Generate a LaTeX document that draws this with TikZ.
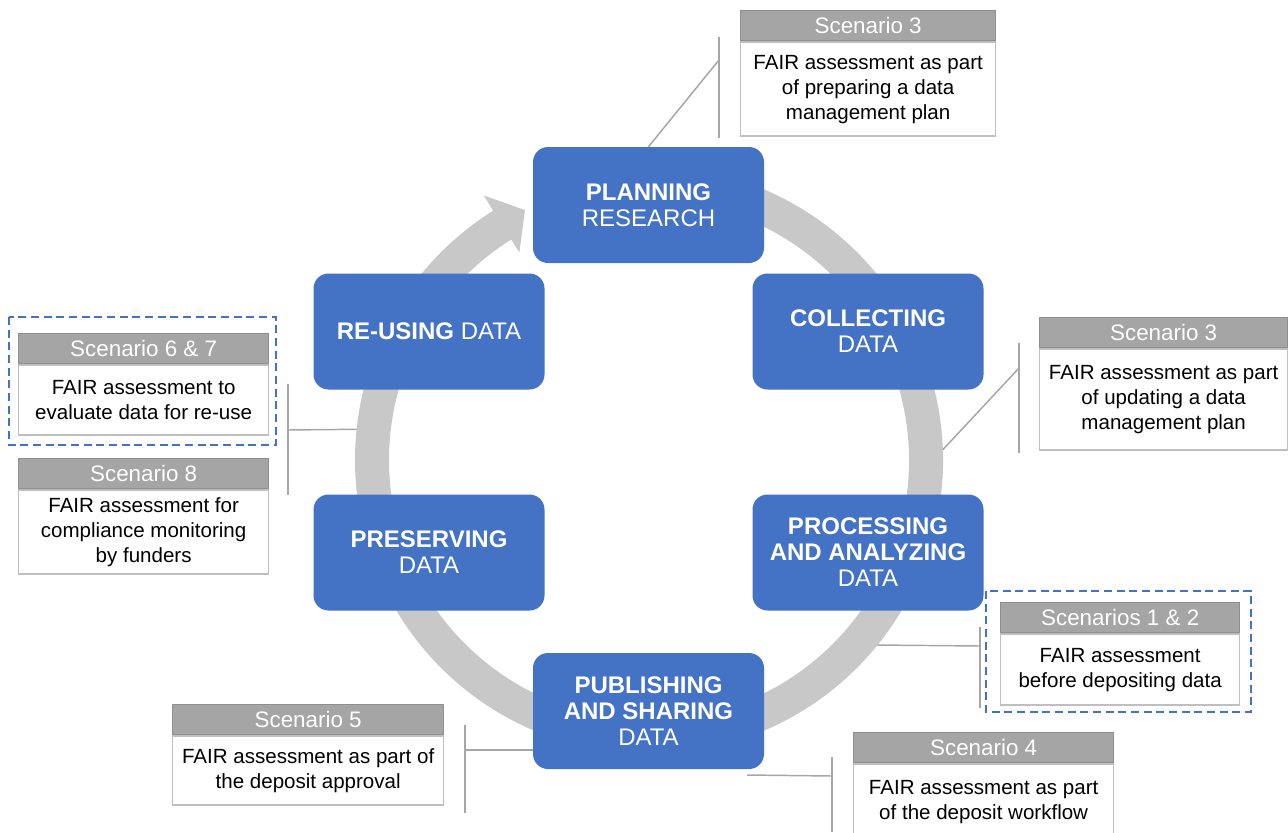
\documentclass[tikz,border=0pt]{standalone}
\usepackage{fontspec}
\setmainfont{Liberation Sans}
\definecolor{stageblue}{HTML}{4472C4}
\definecolor{ringgray}{HTML}{C8C8C8}
\definecolor{headgray}{HTML}{A5A5A5}
\definecolor{headedge}{HTML}{8F8F8F}
\definecolor{bodyedge}{HTML}{BFBFBF}
\definecolor{leadergray}{HTML}{A6A6A6}
\begin{document}
\begin{tikzpicture}[x=0.75pt,y=-0.75pt,
  stage/.style={fill=stageblue, rounded corners=11.25pt, minimum width=173.25pt,
    minimum height=87pt, text=white, align=center, inner sep=0pt,
    font=\fontsize{18}{19.5}\selectfont},
  head/.style={fill=headgray, draw=headedge, line width=1pt, text=white,
    minimum height=22.5pt, inner sep=0pt, anchor=north west,
    font=\fontsize{16.8}{18}\selectfont},
  body/.style={fill=white, draw=bodyedge, line width=1.1pt, text=black,
    align=center, inner sep=0pt, anchor=north,
    font=\fontsize{15.4}{18.75}\selectfont},
  leader/.style={draw=leadergray, line width=1.1pt},
  focus/.style={draw=stageblue, line width=2.2pt, dash pattern=on 6pt off 3.5pt}]
\useasboundingbox (0,0) rectangle (1288,832);
\clip (0,0) rectangle (1288,832);

% life-cycle ring with its arrowhead
\coordinate (c) at (649,460);
\node[circle, minimum size=441pt, inner sep=0pt, outer sep=0pt] (ring) at (c) {};
\draw[ringgray, line width=25.5pt]
  ([shift={(100:207.75pt)}]c) arc[start angle=100, end angle=-238.5, radius=207.75pt];
\fill[ringgray] ([shift={(122:183.5pt)}]c) -- ([shift={(116.4:209.25pt)}]c)
  -- ([shift={(122:234pt)}]c) -- cycle;

% stages
\node[stage] (planning)   at (648.5,205)   {\textbf{PLANNING}\\RESEARCH};
\node[stage] (collecting) at (868,331.5)   {\textbf{COLLECTING}\\DATA};
\node[stage] (processing) at (868,552.5)   {\textbf{PROCESSING}\\\textbf{AND ANALYZING}\\DATA};
\node[stage] (publishing) at (648.5,711)   {\textbf{PUBLISHING}\\\textbf{AND SHARING}\\DATA};
\node[stage] (preserving) at (429,552.5)   {\textbf{PRESERVING}\\DATA};
\node[stage] (reusing)    at (429,331.5)   {\textbf{RE-USING} DATA};

% scenario callouts
\node[head, minimum width=191.25pt] (h3a) at (740,10) {Scenario 3};
\node[body, minimum width=191.25pt, minimum height=70.5pt] (b3a) at (h3a.south)
  {FAIR assessment as part\\of preparing a data\\management plan};

\node[head, minimum width=186pt] (h3b) at (1039,317) {Scenario 3};
\node[body, minimum width=186pt, minimum height=75.75pt] (b3b) at (h3b.south)
  {FAIR assessment as part\\of updating a data\\management plan};

\node[head, minimum width=179.25pt] (h12) at (1000,602) {Scenarios 1 \& 2};
\node[body, minimum width=179.25pt, minimum height=53.25pt] (b12) at (h12.south)
  {FAIR assessment\\before depositing data};

\node[head, minimum width=195pt] (h4) at (853,732) {Scenario 4};
\node[body, minimum width=195pt, minimum height=57pt] (b4) at (h4.south)
  {FAIR assessment as part\\of the deposit workflow};

\node[head, minimum width=203.25pt] (h5) at (172,704) {Scenario 5};
\node[body, minimum width=203.25pt, minimum height=51.75pt] (b5) at (h5.south)
  {FAIR assessment as part of\\the deposit approval};

\node[head, minimum width=187.5pt] (h67) at (18,333) {Scenario 6 \& 7};
\node[body, minimum width=187.5pt, minimum height=52.5pt] (b67) at (h67.south)
  {FAIR assessment to\\evaluate data for re-use};

\node[head, minimum width=187.5pt] (h8) at (18,458) {Scenario 8};
\node[body, minimum width=187.5pt, minimum height=63pt] (b8) at (h8.south)
  {FAIR assessment for\\compliance monitoring\\by funders};

% highlighted scenarios
\draw[focus] (986,591) rectangle (1251,712);
\draw[focus] (9,317) rectangle (276,445);

% leader lines and brackets
\coordinate (k3a) at (719,60);
\draw[leader] (719,37) -- (719,138);
\draw[leader] (planning.north) -- (k3a);

\coordinate (k3b) at (1019,368);
\draw[leader] (1019,343) -- (1019,453);
\draw[leader] (ring.2.5) -- (k3b);

\coordinate (k12) at (980,646);
\draw[leader] (980,627) -- (980,708);
\draw[leader] (ring.-39.3) -- (k12);

\coordinate (s4) at (747,775);
\coordinate (k4) at (832,776);
\draw[leader] (832,757) -- (832,832);
\draw[leader] (s4) -- (k4);

\coordinate (k5) at (465,750);
\draw[leader] (465,725) -- (465,813);
\draw[leader] (k5) -- (k5 -| publishing.west);

\coordinate (k68) at (288,430);
\draw[leader] (288,384) -- (288,495);
\draw[leader] (ring.174.2) -- (k68);
\end{tikzpicture}
\end{document}
